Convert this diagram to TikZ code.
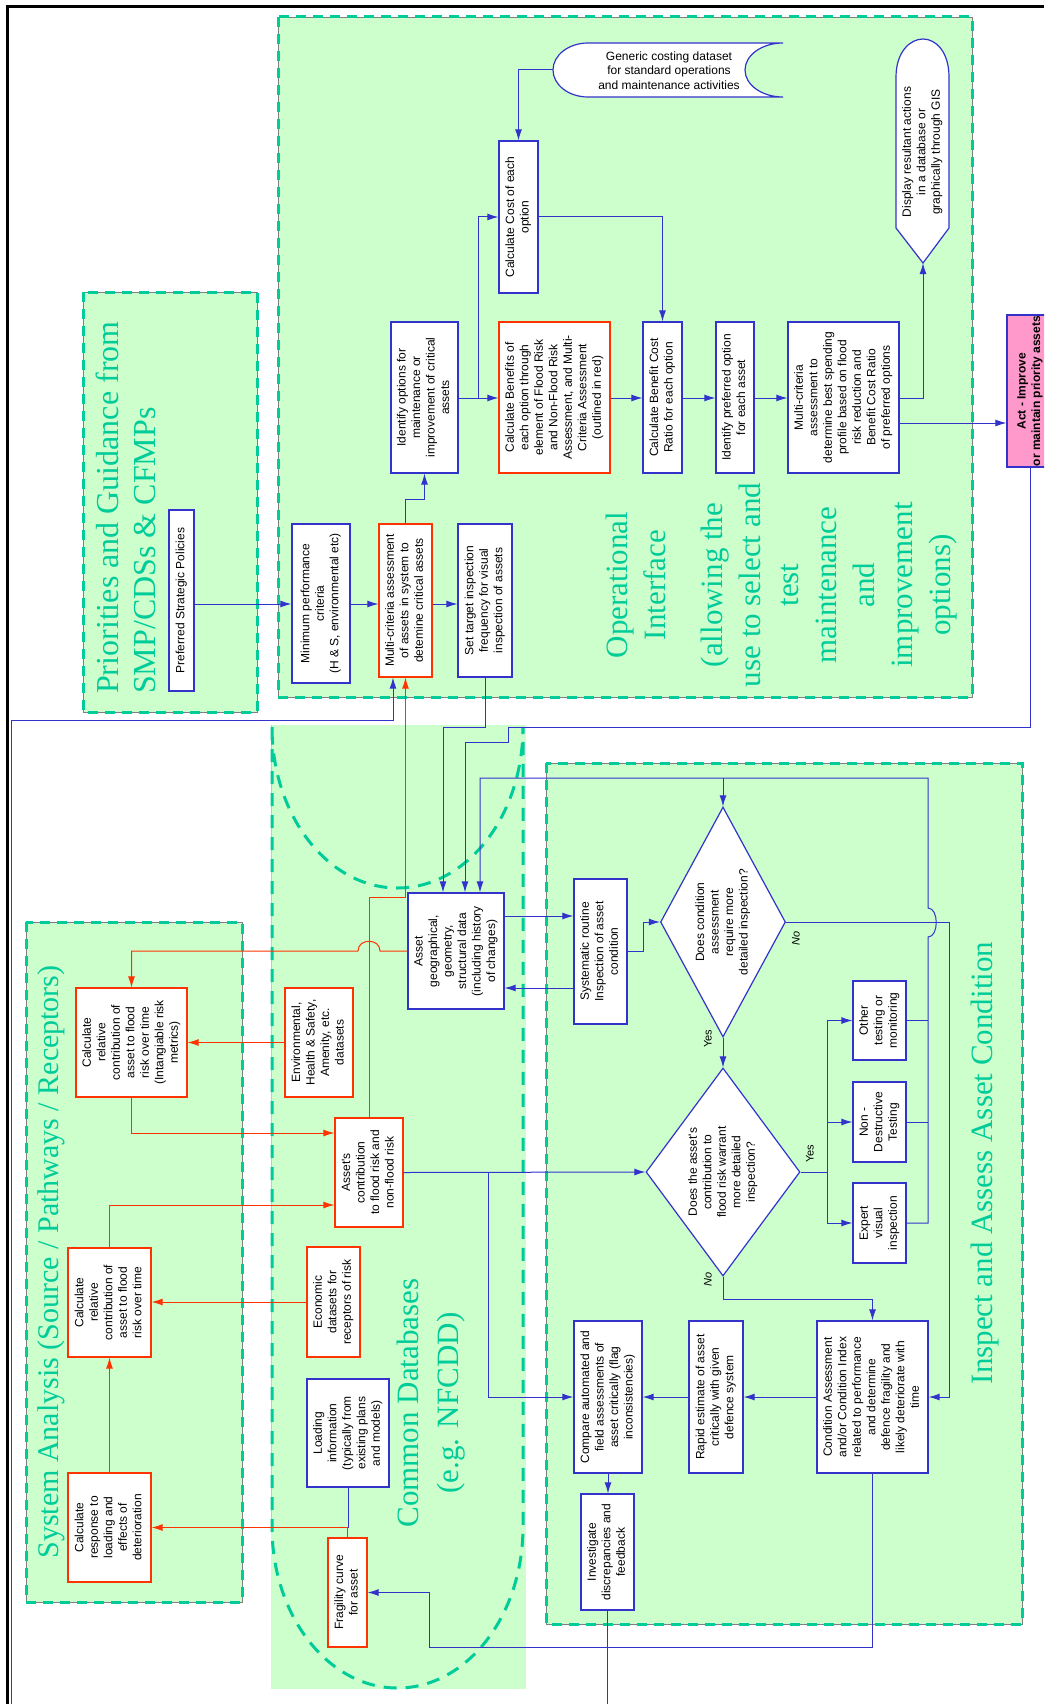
\documentclass[tikz,border=0pt]{standalone}
\usepackage{fontspec}
\usepackage{graphicx}
\usetikzlibrary{arrows.meta,shapes.geometric}
\newfontfamily\boxsans{Liberation Sans}
\newfontfamily\titleserif{Liberation Serif}
\definecolor{zonegreen}{RGB}{204,255,204}
\definecolor{dashgreen}{RGB}{0,204,153}
\definecolor{flowblue}{RGB}{51,51,204}
\definecolor{flowred}{RGB}{255,51,0}
\definecolor{actpink}{RGB}{255,153,204}
% rotated, centred multi-line label
\newcommand\rtext[1]{\rotatebox{90}{\begin{tabular}{@{}c@{}}#1\end{tabular}}}
\begin{document}
\begin{tikzpicture}[x=1pt,y=-1pt,
  boxtext/.style={font=\boxsans\fontsize{12}{14.5}\selectfont},
  sz/.style 2 args={minimum width=#1pt,minimum height=#2pt},
  bbox/.style={boxtext,draw=flowblue,line width=1.2pt,fill=white,inner sep=0pt},
  rbox/.style={bbox,draw=flowred},
  dia/.style={boxtext,draw=flowblue,line width=1.2pt,fill=white,inner sep=0pt,shape=diamond},
  bl/.style={draw=flowblue,line width=1pt},
  arr/.style={bl,-{Latex[length=11pt,width=7pt]}},
  rl/.style={draw=flowred,line width=1pt},
  rarr/.style={rl,-{Latex[length=11pt,width=7pt]}},
  zoneedge/.style={draw=dashgreen,line width=3pt,dash pattern=on 10pt off 7pt},
  zoneline/.style={draw=gray,line width=0.7pt},
  zonetitle/.style={text=dashgreen,font=\titleserif\fontsize{31}{40}\selectfont,inner sep=0pt,rotate=90},
  yeslabel/.style={font=\boxsans\fontsize{11}{13}\selectfont,inner sep=0pt,rotate=90},
  nolabel/.style={font=\boxsans\itshape\fontsize{11}{13}\selectfont,inner sep=0pt,rotate=90}
]
\useasboundingbox (0,0) rectangle (1044,1704);
\fill[white] (0,0) rectangle (1044,1704);
\clip (0,0) rectangle (1044,1704);

% ---------- zones ----------
\fill[zonegreen] (278,17) rectangle (972,697);
\fill[zonegreen] (83,292) rectangle (257,712);
\fill[zonegreen] (26,922) rectangle (242,1602);
\fill[zonegreen] (546,763) rectangle (1022,1624);
\fill[zonegreen] (271,725) rectangle (526,1689);

\draw[zoneline] (278,17) rectangle (972,697);
\draw[zoneline] (83,292) rectangle (257,712);
\draw[zoneline] (26,922) rectangle (242,1602);
\draw[zoneline] (546,763) rectangle (1022,1624);
\draw[gray!45,line width=0.7pt] (271,725) -- (271,1527);

\draw[zoneedge] (278,17) rectangle (972,697);
\draw[zoneedge] (83,292) rectangle (257,712);
\draw[zoneedge] (26,922) rectangle (242,1602);
\draw[zoneedge] (546,763) rectangle (1022,1624);
% database cylinder outline
\draw[zoneedge,dash pattern=on 13pt off 9pt]
  (272,727) -- (272,1527)
  .. controls (272,1615.9) and (328.2,1688) .. (397.5,1688)
  .. controls (466.8,1688) and (523,1615.9) .. (523,1527)
  -- (523,727)
  .. controls (523,815.9) and (466.8,888) .. (397.5,888)
  .. controls (328.2,888) and (272,815.9) .. (272,727);

% outer frame
\draw[black,line width=3pt] (7,1704) -- (7,7) -- (1044,7);

% ---------- zone titles ----------
\node[zonetitle,font=\titleserif\fontsize{31}{38}\selectfont,align=center] (tOp) at (782,585)
  {Operational\\Interface\\[19pt](allowing the\\use to select and\\test\\maintenance\\and\\improvement\\options)};
\node[zonetitle,font=\titleserif\fontsize{32}{37}\selectfont,align=left,anchor=north west] (tPri) at (96,694)
  {Priorities and Guidance from\\SMP/CDSs \& CFMPs};
\node[zonetitle,font=\titleserif\fontsize{30}{40}\selectfont] (tSys) at (51.5,1262)
  {System Analysis (Source / Pathways / Receptors)};
\node[zonetitle,align=center] (tCdb) at (431,1403) {Common Databases\\(e.g. NFCDD)};
\node[zonetitle] (tIns) at (985,1163) {Inspect and Assess Asset Condition};

% ---------- operational interface ----------
\node[bbox,sz={25}{181}] (P1) at (181.5,600.5) {\rtext{Preferred Strategic Policies}};
\node[bbox,sz={58}{159}] (O1) at (321,603.5) {\rtext{Minimum performance\\criteria\\(H \& S, environmental etc)}};
\node[rbox,sz={53}{153}] (O2) at (405.5,600.5) {\rtext{Multi-criteria assessment\\of assets in system to\\detemine critical assets}};
\node[bbox,sz={54}{153}] (O3) at (485,600.5) {\rtext{Set target inspection\\frequency for visual\\inspection of assets}};
\node[bbox,sz={67}{151}] (O4) at (424.5,397.5) {\rtext{Identify options for\\maintenance or\\improvement of critical\\assets}};
\node[bbox,sz={39}{152}] (O5) at (518.5,217) {\rtext{Calculate Cost of each\\option}};
\node[rbox,sz={111}{151}] (O6) at (554.5,397.5) {\rtext{Calculate Benefits of\\each option through\\element of Flood Risk\\and Non-Flood Risk\\Assessment, and Multi-\\Criteria Assessment\\(outlined in red)}};
\node[bbox,sz={39}{151}] (O7) at (662.5,397.5) {\rtext{Calculate Benefit Cost\\Ratio for each option}};
\node[bbox,sz={38}{151}] (O8) at (735,397.5) {\rtext{Identify preferred option\\for each asset}};
\node[bbox,sz={111}{151}] (O9) at (843.5,397.5) {\rtext{Multi-criteria\\assessment to\\determine best spending\\profile based on flood\\risk reduction and\\Benefit Cost Ratio\\of preferred options}};

% display symbol
\draw[bl,line width=1.2pt,fill=white] (896,228) -- (896,77)
  .. controls (896,52) and (910,39) .. (923,39)
  .. controls (936,39) and (949,52) .. (949,77) -- (949,228) -- (923,263) -- cycle;
\node[boxtext,inner sep=0pt] (O10) at (922.5,152) {\rtext{Display resultant actions\\in a database or\\graphically through GIS}};
\coordinate (dispTip) at (923,263);

% stored data symbol
\draw[bl,line width=1.2pt,fill=white] (588,43) -- (783,43)
  .. controls (762,43) and (745,55.1) .. (745,70)
  .. controls (745,84.9) and (762,97) .. (783,97) -- (588,97)
  .. controls (568.7,97) and (553,84.9) .. (553,70)
  .. controls (553,55.1) and (568.7,43) .. (588,43) -- cycle;
\node[boxtext,inner sep=0pt,align=center] (O11) at (669,70.5) {Generic costing dataset\\for standard operations\\and maintenance activities};
\coordinate (storeTip) at (553,70);

\node[draw=flowblue,line width=1.2pt,fill=actpink,inner sep=0pt,sz={46}{152},
  font=\boxsans\bfseries\fontsize{12}{14.5}\selectfont] (Act) at (1030,391)
  {\rtext{Act - Improve\\or maintain priority assets}};

% ---------- common databases ----------
\node[bbox,sz={96}{116}] (D1) at (456,951) {\rtext{Asset\\geographical,\\geometry,\\structural data\\(including history\\of changes)}};
\node[rbox,sz={68}{109}] (D2) at (319,1042.5) {\rtext{Environmental,\\Health \& Safety,\\Amenity, etc.\\datasets}};
\node[rbox,sz={68}{109}] (D3) at (369,1172.5) {\rtext{Asset's\\contribution\\to flood risk and\\non-flood risk}};
\node[rbox,sz={53}{110}] (D4) at (333.5,1302) {\rtext{Economic\\datasets for\\receptors of risk}};
\node[bbox,sz={82}{108}] (D5) at (348,1433) {\rtext{Loading\\information\\(typically from\\existing plans\\and models)}};
\node[rbox,sz={39}{109}] (D6) at (347.5,1592.5) {\rtext{Fragility curve\\for asset}};

% ---------- system analysis ----------
\node[rbox,sz={111}{109}] (S1) at (131.5,1042.5) {\rtext{Calculate\\relative\\contribution of\\asset to flood\\risk over time\\(Intangiable risk\\metrics)}};
\node[rbox,sz={83}{109}] (S2) at (109.5,1302.5) {\rtext{Calculate\\relative\\contribution of\\asset to flood\\risk over time}};
\node[rbox,sz={83}{109}] (S3) at (109.5,1527.5) {\rtext{Calculate\\response to\\loading and\\effects of\\deterioration}};

% ---------- inspect and assess ----------
\node[bbox,sz={53}{145}] (I1) at (600.5,951.5) {\rtext{Systematic routine\\Inspection of asset\\condition}};
\node[dia,aspect=0.54,sz={125}{230}] (DA1) at (723,922) {\rtext{Does condition\\assessment\\require more\\detailed inspection?}};
\node[dia,aspect=0.74,sz={154}{208}] (DA2) at (723,1172) {\rtext{Does the asset's\\contribution to\\flood risk warrant\\more detailed\\inspection?}};
\node[bbox,sz={53}{79}] (Oth) at (879.5,1020.5) {\rtext{Other\\testing or\\monitoring}};
\node[bbox,sz={53}{80}] (NDT) at (879.5,1122) {\rtext{Non -\\Destructive\\Testing}};
\node[bbox,sz={53}{80}] (Exp) at (879.5,1223) {\rtext{Expert\\visual\\inspection}};
\node[bbox,sz={111}{152}] (I8) at (872.5,1397) {\rtext{Condition Assessment\\and/or Condition Index\\related to performance\\and determine\\defence fragility and\\likely deteriorate with\\time}};
\node[bbox,sz={54}{152}] (I7) at (716,1397) {\rtext{Rapid estimate of asset\\critically with given\\defence system}};
\node[bbox,sz={68}{152}] (I5) at (608,1397) {\rtext{Compare automated and\\field assessments of\\asset critically (flag\\inconsistencies)}};
\node[bbox,sz={53}{116}] (I6) at (607.5,1552) {\rtext{Investigate\\discrepancies and\\feedback}};

\node[nolabel] (no1) at (796,938) {No};
\node[yeslabel] (yes1) at (708,1039) {Yes};
\node[yeslabel] (yes2) at (810,1154) {Yes};
\node[nolabel] (no2) at (708,1279) {No};

% ---------- connectors: operational interface ----------
\coordinate (split) at (478,398);
\draw[arr] (P1.east |- 0,604) -- (O1.west |- 0,604);
\draw[arr] (O1.east |- 0,604) -- (O2.west |- 0,604);
\draw[arr] (O2.east |- 0,604) -- (O3.west |- 0,604);
\draw[arr] (O2.north) |- (O4.south |- 0,499) -- (O4.south);
\draw[arr] (O4.east |- split) -- (O6.west |- split);
\draw[arr] (split) |- (O5.west);
\draw[arr] (storeTip) -| (O5.north);
\draw[arr] (O5.east) -| (O7.north);
\draw[arr] (O6.east |- split) -- (O7.west |- split);
\draw[arr] (O7.east |- split) -- (O8.west |- split);
\draw[arr] (O8.east |- split) -- (O9.west |- split);
\draw[arr] (O9.east |- split) -| (dispTip);
\draw[arr] (O9.east |- 0,423) -- (Act.west |- 0,423);

% ---------- connectors: into the asset database ----------
\coordinate (loopTop) at (928,778);
\draw[arr] (O3.south) |- (443,727) -- (D1.north -| 443,0);
\draw[arr] (Act.south) |- (508,727) |- (465,742) -- (D1.north -| 465,0);
\draw[bl] (Oth.east) -- (Oth.east -| loopTop);
\draw[bl] (NDT.east) -- (NDT.east -| loopTop);
\draw[arr] (Exp.east) -| (928,937) .. controls (939,937) and (939,908) .. (928,908)
  -- (loopTop) -- (480,778) -- (D1.north -| 480,0);
\draw[arr] (DA1.north |- loopTop) -- (DA1.north);

% feedback loop round the left edge
\coordinate (feedIn) at (11,1704);
\draw[arr] (feedIn) |- (393,720) -- (O2.south -| 393,0);
\draw[bl] (I6.south) -- (I6.south |- feedIn);

% ---------- connectors: risk analysis (red) ----------
\draw[rarr] (D1.west) -- (380,951) .. controls (380,938) and (358,938) .. (358,951) -| (S1.north);
\draw[rarr] (D2.west) -- (S1.east |- D2.west);
\draw[rarr] (S1.south) |- (D3.west |- 0,1133);
\draw[rarr] (S2.north) |- (D3.west |- 0,1205);
\draw[rarr] (D4.west) -- (S2.east |- D4.west);
\draw[rarr] (S3.north) -- (S2.south);
\draw[bl] (D5.south) -- (D5.south |- 0,1527.5);
\draw[rarr] (D6.north) |- (S3.east);
\draw[rarr] (D3.north) |- (O2.south |- 0,897) -- (O2.south);

% ---------- connectors: inspection ----------
\coordinate (split2) at (488,1172.5);
\coordinate (split3) at (827,1172);
\draw[arr] (D3.east) -- (DA2.west);
\draw[arr] (split2) |- (I5.west);
\draw[arr] (D1.east |- 0,916) -- (I1.west |- 0,916);
\draw[arr] (I1.west |- 0,988) -- (D1.east |- 0,988);
\draw[arr] (I1.east) -- (I1.east -| 643,0) |- (DA1.west);
\draw[arr] (DA1.south) -- (DA2.north);
\draw[arr] (DA1.east) -| (I8.east -| 949,0) -- (I8.east);
\draw[bl] (DA2.east) -- (split3);
\draw[arr] (split3) |- (Oth.west);
\draw[arr] (split3) |- (NDT.west);
\draw[arr] (split3) |- (Exp.west);
\draw[arr] (DA2.south) |- (I8.north |- 0,1299) -- (I8.north);
\draw[arr] (I8.west) -- (I7.east);
\draw[arr] (I7.west) -- (I5.east);
\draw[arr] (I5.south) -- (I5.south |- I6.north);
\draw[arr] (I8.south) |- (429,1647) |- (D6.east);
\end{tikzpicture}
\end{document}
